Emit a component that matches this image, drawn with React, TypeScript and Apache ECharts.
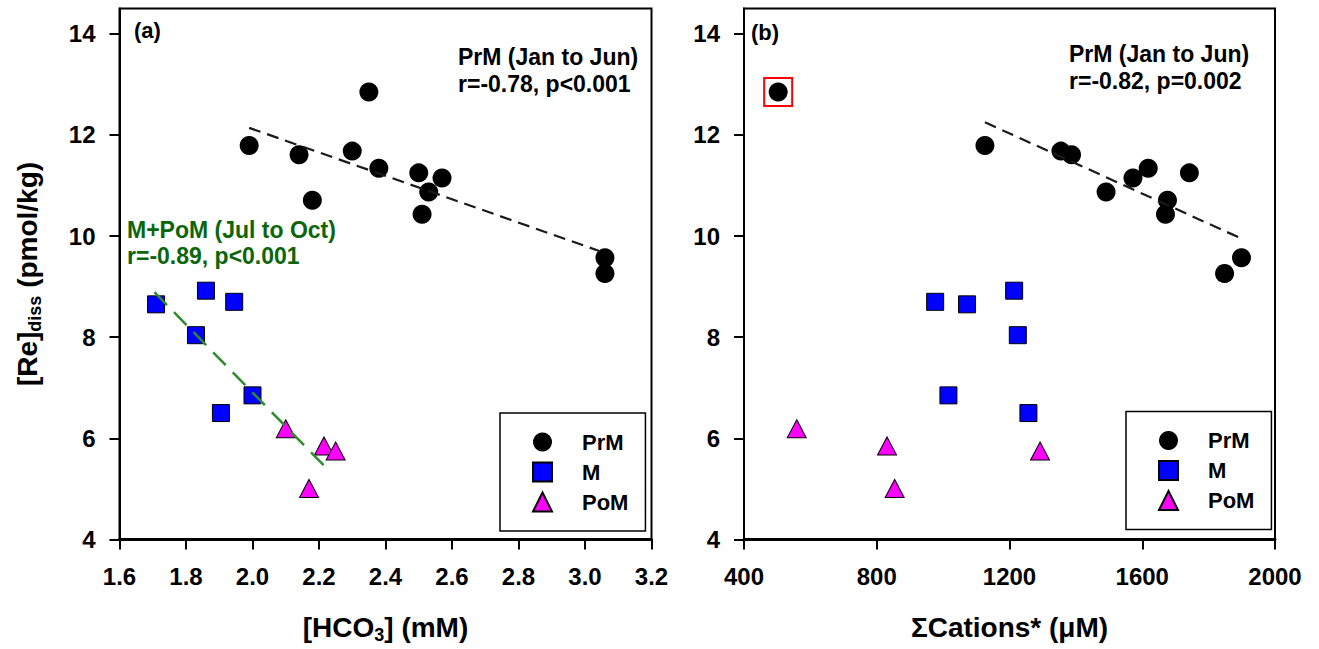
import React, { useEffect, useRef } from "react";
import * as echarts from "echarts";

// ---------- data ----------
const reTicks = [4, 6, 8, 10, 12, 14];
const hco3Ticks = [1.6, 1.8, 2.0, 2.2, 2.4, 2.6, 2.8, 3.0, 3.2];
const cationTicks = [400, 800, 1200, 1600, 2000];

// PrM (Jan to Jun)
const rePrM = [11.79, 11.61, 10.71, 11.68, 12.85, 11.34, 11.25, 11.15, 10.87, 10.43, 9.57, 9.26];
const hco3PrM = [1.99, 2.14, 2.18, 2.30, 2.35, 2.38, 2.50, 2.57, 2.53, 2.51, 3.06, 3.06];
const cationsPrM = [1126, 1387, 1676, 1355, 503, 1618, 1742, 1572, 1491, 1670, 1899, 1848];

// M
const reM = [8.65, 8.92, 8.70, 8.04, 6.85, 6.50];
const hco3M = [1.71, 1.86, 1.945, 1.83, 2.0, 1.905];
const cationsM = [1072, 1214, 976, 1225, 1016, 1257];

// PoM
const rePoM = [6.19, 5.85, 5.75, 5.01];
const hco3PoM = [2.1, 2.215, 2.25, 2.17];
const cationsPoM = [559, 831, 1292, 854];

// fitted trend lines (end points)
const fitHco3PrM = [[1.99, 12.14], [3.045, 9.7]];
const fitHco3MPoM = [[1.705, 8.89], [2.23, 5.36]];
const fitCationsPrM = [[1126, 12.25], [1899, 9.95]];

// highlighted outlier in (b)
const outlierB = [[503, 12.85]];

const FONT = '"Liberation Sans", Arial, sans-serif';

const zip = (xs: number[], ys: number[]) => xs.map((x, i) => [x, ys[i]]);

export default function App() {
  const ref = useRef<HTMLDivElement>(null);

  useEffect(() => {
    if (!ref.current) return;
    const chart = echarts.init(ref.current, null, { renderer: "svg" });

    const gridTop = 8.5;
    const gridH = 531;

    const tickLabel = {
      fontFamily: FONT,
      fontWeight: "bold" as const,
      fontSize: 24,
      color: "#000",
    };

    const yAxisBase = (idx: number, withName: boolean) => ({
      type: "value" as const,
      gridIndex: idx,
      min: 4,
      max: 14.5,
      splitLine: { show: false },
      axisLine: { show: true, lineStyle: { color: "#000", width: 2 } },
      axisTick: {
        show: true,
        inside: false,
        length: 10,
        lineStyle: { color: "#000", width: 2 },
        customValues: reTicks,
      },
      axisLabel: { ...tickLabel, margin: 24, customValues: reTicks },
      ...(withName
        ? {
            name: "{m|[Re]}{s|diss}{m| (pmol/kg)}",
            nameLocation: "middle" as const,
            nameGap: 76,
            nameTextStyle: {
              rich: {
                m: { fontFamily: FONT, fontWeight: "bold", fontSize: 28, lineHeight: 32, color: "#000" },
                s: { fontFamily: FONT, fontWeight: "bold", fontSize: 18, lineHeight: 18, color: "#000", verticalAlign: "bottom" },
              },
            },
          }
        : {}),
    });

    const xTitleRich = {
      m: { fontFamily: FONT, fontWeight: "bold", fontSize: 28, lineHeight: 32, color: "#000" },
      s: { fontFamily: FONT, fontWeight: "bold", fontSize: 18, lineHeight: 16, color: "#000", verticalAlign: "bottom" },
    };

    const circle = { symbol: "circle", symbolSize: 19, itemStyle: { color: "#000", opacity: 1 } };
    const square = {
      symbol: "rect",
      symbolSize: 17,
      itemStyle: { color: "#0000FF", borderColor: "#000", borderWidth: 1, opacity: 1 },
    };
    const tri = {
      symbol: "triangle",
      symbolSize: [19, 18],
      itemStyle: { color: "#FF00FF", borderColor: "#000", borderWidth: 1, opacity: 1 },
    };

    const legendBase = {
      orient: "vertical" as const,
      selectedMode: false,
      data: ["PrM", "M", "PoM"],
      borderColor: "#000",
      borderWidth: 1.5,
      backgroundColor: "#fff",
      padding: [17, 17, 17, 32],
      itemGap: 6,
      itemWidth: 19,
      itemHeight: 19,
      itemStyle: { opacity: 1 },
      textStyle: {
        fontFamily: FONT,
        fontWeight: "bold",
        fontSize: 22,
        lineHeight: 24,
        color: "#000",
        padding: [0, 0, 0, 25],
      },
    };

    const annot = (text: string, x: number, y: number, size: number, fill = "#000") => ({
      type: "text",
      x,
      y,
      silent: true,
      style: {
        text,
        fill,
        font: `bold ${size}px ${FONT}`,
        align: "left",
        verticalAlign: "middle",
      },
    });

    const option: any = {
      animation: false,
      backgroundColor: "#fff",
      grid: [
        { left: 119.5, top: gridTop, width: 532, height: gridH, show: true, borderColor: "#000", borderWidth: 2, backgroundColor: "transparent" },
        { left: 744, top: gridTop, width: 531, height: gridH, show: true, borderColor: "#000", borderWidth: 2, backgroundColor: "transparent" },
      ],
      xAxis: [
        {
          type: "value",
          gridIndex: 0,
          min: 1.6,
          max: 3.2,
          splitLine: { show: false },
          axisLine: { show: true, onZero: false, lineStyle: { color: "#000", width: 3 } },
          axisTick: { show: true, length: 10, lineStyle: { color: "#000", width: 2 }, customValues: hco3Ticks },
          axisLabel: { ...tickLabel, margin: 25, customValues: hco3Ticks, formatter: (v: number) => v.toFixed(1) },
          name: "{m|[HCO}{s|3}{m|] (mM)}",
          nameLocation: "middle",
          nameGap: 72,
          nameTextStyle: { rich: xTitleRich },
        },
        {
          type: "value",
          gridIndex: 1,
          min: 400,
          max: 2000,
          splitLine: { show: false },
          axisLine: { show: true, onZero: false, lineStyle: { color: "#000", width: 3 } },
          axisTick: { show: true, length: 10, lineStyle: { color: "#000", width: 2 }, customValues: cationTicks },
          axisLabel: { ...tickLabel, margin: 25, customValues: cationTicks, formatter: (v: number) => String(Math.round(v)) },
          name: "{m|\u03A3Cations* (\u03BCM)}",
          nameLocation: "middle",
          nameGap: 72,
          nameTextStyle: { rich: xTitleRich },
        },
      ],
      yAxis: [yAxisBase(0, true), yAxisBase(1, false)],
      legend: [
        { ...legendBase, left: 500, top: 413 },
        { ...legendBase, left: 1126, top: 411.5 },
      ],
      series: [
        // panel (a)
        { name: "PrM", type: "scatter", xAxisIndex: 0, yAxisIndex: 0, data: zip(hco3PrM, rePrM), ...circle, z: 2 },
        { name: "M", type: "scatter", xAxisIndex: 0, yAxisIndex: 0, data: zip(hco3M, reM), ...square, z: 2 },
        { name: "PoM", type: "scatter", xAxisIndex: 0, yAxisIndex: 0, data: zip(hco3PoM, rePoM), ...tri, z: 2 },
        {
          name: "fitA1", type: "line", xAxisIndex: 0, yAxisIndex: 0, data: fitHco3PrM,
          showSymbol: false, symbol: "none", silent: true, z: 3,
          lineStyle: { color: "#1a1a1a", width: 2.2, type: [12, 7] },
        },
        {
          name: "fitA2", type: "line", xAxisIndex: 0, yAxisIndex: 0, data: fitHco3MPoM,
          showSymbol: false, symbol: "none", silent: true, z: 3,
          lineStyle: { color: "#2E8B2E", width: 2.5, type: [18, 10] },
        },
        // panel (b)
        { name: "PrM", type: "scatter", xAxisIndex: 1, yAxisIndex: 1, data: zip(cationsPrM, rePrM), ...circle, z: 2 },
        { name: "M", type: "scatter", xAxisIndex: 1, yAxisIndex: 1, data: zip(cationsM, reM), ...square, z: 2 },
        { name: "PoM", type: "scatter", xAxisIndex: 1, yAxisIndex: 1, data: zip(cationsPoM, rePoM), ...tri, z: 2 },
        {
          name: "outlier", type: "scatter", xAxisIndex: 1, yAxisIndex: 1, data: outlierB,
          symbol: "rect", symbolSize: 28, silent: true, z: 3,
          itemStyle: { color: "transparent", borderColor: "#FF0000", borderWidth: 2, opacity: 1 },
        },
        {
          name: "fitB1", type: "line", xAxisIndex: 1, yAxisIndex: 1, data: fitCationsPrM,
          showSymbol: false, symbol: "none", silent: true, z: 3,
          lineStyle: { color: "#1a1a1a", width: 2.2, type: [12, 7] },
        },
      ],
      graphic: [
        annot("(a)", 134, 30, 22),
        annot("PrM (Jan to Jun)", 458, 56.5, 23),
        annot("r=-0.78, p<0.001", 458, 84, 23),
        annot("M+PoM (Jul to Oct)", 127, 229.5, 23, "#0B660B"),
        annot("r=-0.89, p<0.001", 127, 256, 23, "#0B660B"),
        annot("(b)", 751, 32, 22),
        annot("PrM (Jan to Jun)", 1069, 54, 23),
        annot("r=-0.82, p=0.002", 1069, 80.5, 23),
      ],
    };

    chart.setOption(option);
    return () => chart.dispose();
  }, []);

  return (
    <div
      ref={ref}
      style={{ position: "fixed", left: 0, top: 0, width: 1319, height: 649, background: "#fff" }}
    />
  );
}
